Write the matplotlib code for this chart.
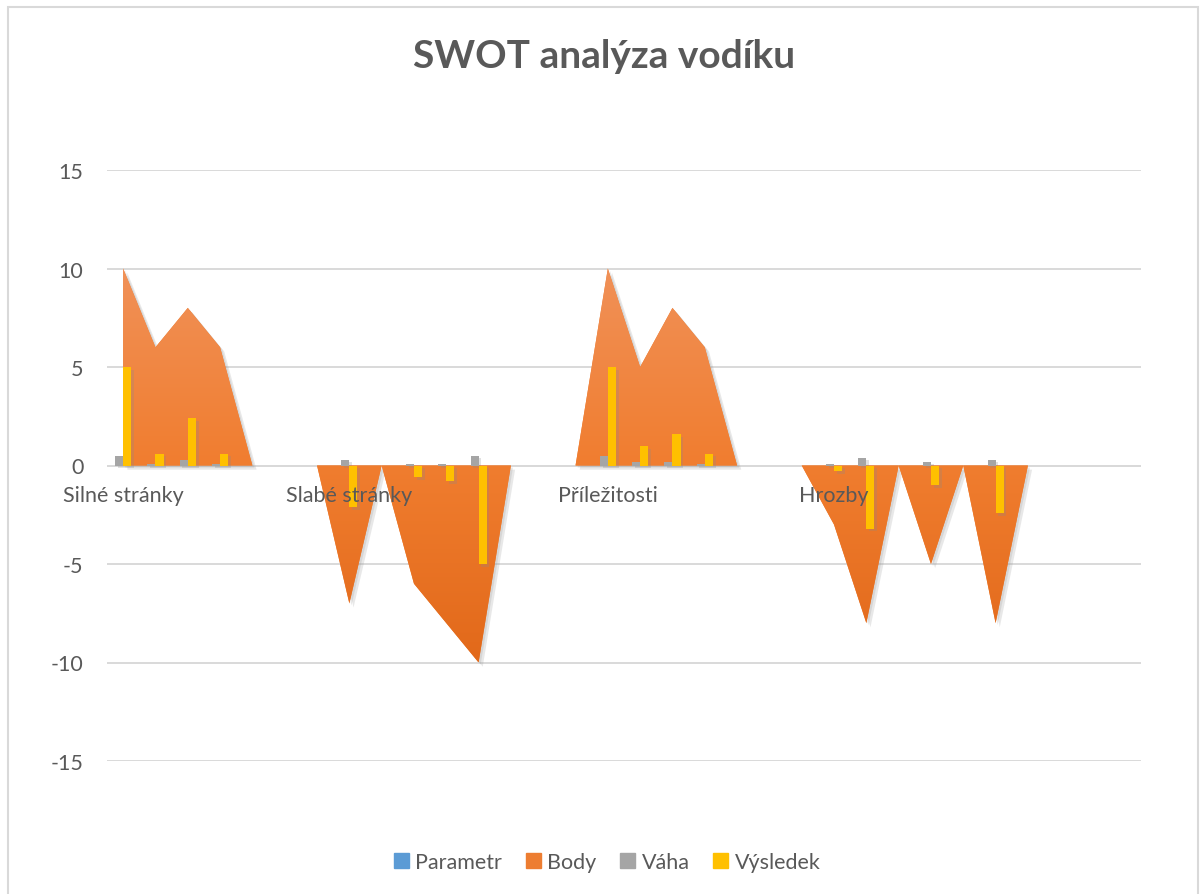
import matplotlib
matplotlib.use("Agg")
import matplotlib.pyplot as plt
import matplotlib.patheffects as pe
from matplotlib.colors import LinearSegmentedColormap
from matplotlib.patches import Rectangle
import numpy as np

plt.rcParams['font.family'] = ['Lato', 'DejaVu Sans']
plt.rcParams['axes.unicode_minus'] = False

# 32 rows of the sheet; only the first row of each block carries a label
labels = ['Silné stránky', '', '', '', '', '', '', 'Slabé stránky', '', '', '', '', '', '', '',
          'Příležitosti', '', '', '', '', '', '', 'Hrozby', '', '', '', '', '', '', '', '', '']
parametr = [0] * 32
body = [10, 6, 8, 6, 0, 0, 0, -7, 0, -6, -8, -10, 0, 0, 0,
        10, 5, 8, 6, 0, 0, 0, -3, -8, 0, -5, 0, -8, 0, 0, 0, 0]
vaha = [0.5, 0.1, 0.3, 0.1, 0, 0, 0, 0.3, 0, 0.1, 0.1, 0.5, 0, 0, 0,
        0.5, 0.2, 0.2, 0.1, 0, 0, 0, 0.1, 0.4, 0, 0.2, 0, 0.3, 0, 0, 0, 0]
vysledek = [5, 0.6, 2.4, 0.6, 0, 0, 0, -2.1, 0, -0.6, -0.8, -5, 0, 0, 0,
            5, 1.0, 1.6, 0.6, 0, 0, 0, -0.3, -3.2, 0, -1.0, 0, -2.4, 0, 0, 0, 0]

text_col = '#595959'
grid_col = '#D9D9D9'

fig = plt.figure(figsize=(12, 8.95), dpi=100)
ax = fig.add_axes([107 / 1200, 1 - 762 / 895, 1034 / 1200, 591 / 895])

x = np.arange(len(body))

# Body as area with vertical gradient and a soft shadow
area = ax.fill_between(x, 0, body, color='#ED7D31', lw=0, zorder=2,
                       path_effects=[pe.SimplePatchShadow(offset=(3, -3), shadow_rgbFace='#9a9a9a', alpha=0.22),
                                     pe.SimplePatchShadow(offset=(1.5, -1.5), shadow_rgbFace='#9a9a9a', alpha=0.22),
                                     pe.Normal()])
cmap = LinearSegmentedColormap.from_list('org', ['#E2691A', '#F07D2F', '#F19158'])
grad = np.linspace(0, 1, 256).reshape(-1, 1)
img = ax.imshow(grad, cmap=cmap, aspect='auto', origin='lower',
                extent=[-0.5, 31.5, -10, 10], zorder=2.1)
img.set_clip_path(area.get_paths()[0], transform=ax.transData)

w = 0.25
shadow = [pe.SimplePatchShadow(offset=(2, -2), shadow_rgbFace='#8a8a8a', alpha=0.25), pe.Normal()]
ax.bar(x - 1.5 * w, parametr, w, color='#5B9BD5', zorder=3, label='Parametr')
ax.bar(x - 0.5 * w, vaha, w, color='#A5A5A5', zorder=3, label='Váha', path_effects=shadow)
ax.bar(x + 0.5 * w, vysledek, w, color='#FFC000', zorder=3, label='Výsledek', path_effects=shadow)

ax.set_xlim(-0.5, 31.5)
ax.set_ylim(-15, 15)
ax.set_yticks(range(-15, 16, 5))
ax.yaxis.grid(True, color=grid_col, lw=1.4, zorder=0)
ax.set_axisbelow(True)
ax.set_xticks([])
ax.tick_params(axis='y', length=0, pad=17, labelsize=15.5, labelcolor=text_col)
for s in ax.spines.values():
    s.set_visible(False)
ax.axhline(0, color=grid_col, lw=1.4, zorder=1)

for i, lab in enumerate(labels):
    if lab:
        ax.annotate(lab, (i, 0), xytext=(0, -14), textcoords='offset points',
                    ha='center', va='top', fontsize=15.5, color=text_col, annotation_clip=False)

fig.text(0.503, 1 - 56 / 895, 'SWOT analýza vodíku', ha='center', va='center',
         fontsize=28, fontweight='bold', color=text_col)

handles = [Rectangle((0, 0), 1, 1, color=c) for c in ['#5B9BD5', '#ED7D31', '#A5A5A5', '#FFC000']]
fig.legend(handles, ['Parametr', 'Body', 'Váha', 'Výsledek'], loc='center',
           bbox_to_anchor=(0.506, 1 - 863 / 895), ncol=4, frameon=False, fontsize=15.5,
           handlelength=0.7, handleheight=0.7, handletextpad=0.3, columnspacing=1.1,
           labelcolor=text_col)

fig.add_artist(Rectangle((8 / 1200, -0.01), 1190 / 1200, 1 - 8 / 895 + 0.01, transform=fig.transFigure,
                         fill=False, edgecolor=grid_col, lw=1.5))

fig.savefig('out.png', dpi=100)
